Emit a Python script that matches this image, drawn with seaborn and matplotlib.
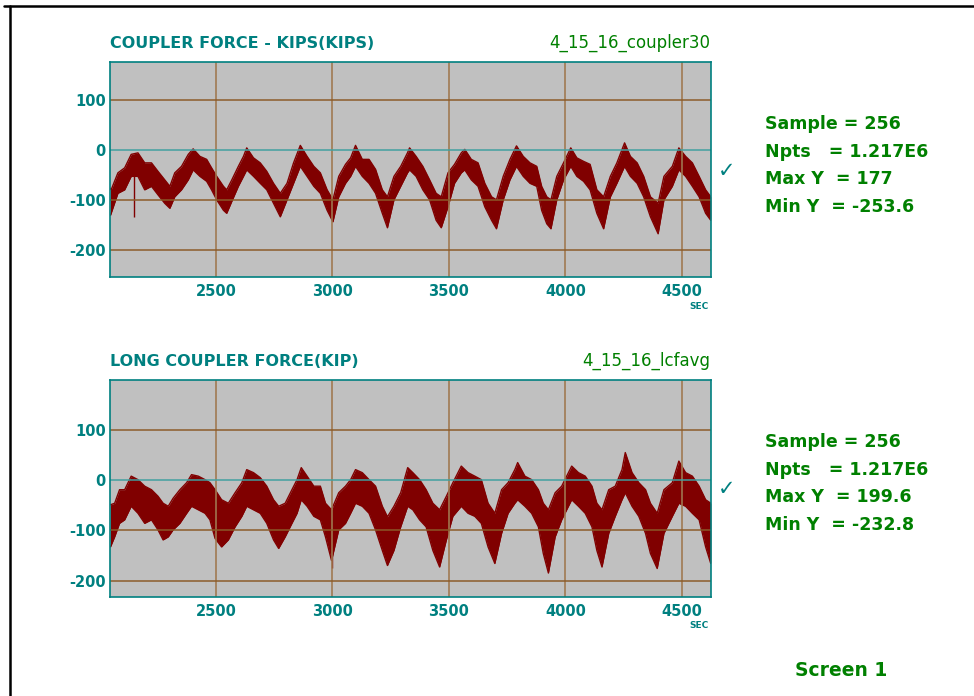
import matplotlib
matplotlib.use("Agg")
import matplotlib.pyplot as plt
import pandas as pd
import seaborn as sns
from matplotlib.lines import Line2D

# ---- coupler force (upper panel): time [s], band top / bottom [kips]
coupler_t = [2047, 2050, 2079, 2108, 2136, 2165, 2194, 2223, 2251, 2280, 2302, 2323, 2352, 2381,
             2402, 2431, 2460, 2481, 2503, 2532, 2546, 2568, 2596, 2618, 2632, 2661, 2690, 2718,
             2747, 2776, 2805, 2833, 2862, 2891, 2920, 2948, 2977, 3002, 3027, 3056, 3078, 3099,
             3128, 3157, 3185, 3214, 3236, 3264, 3293, 3322, 3331, 3359, 3388, 3417, 3445, 3467,
             3496, 3524, 3553, 3568, 3596, 3625, 3654, 3683, 3704, 3733, 3762, 3790, 3819, 3848,
             3877, 3898, 3920, 3938, 3963, 3992, 4023, 4049, 4078, 4106, 4135, 4164, 4193, 4221,
             4254, 4279, 4308, 4336, 4365, 4398, 4423, 4459, 4487, 4516, 4545, 4574, 4602, 4624]
coupler_hi = [-76, -79, -45, -35, -8, -5, -25, -25, -42, -59, -72, -45, -32, -8,
              3, -12, -18, -35, -52, -72, -79, -59, -32, -12, 5, -15, -25, -42,
              -66, -86, -66, -25, 10, -12, -32, -45, -79, -99, -52, -28, -15, 10,
              -18, -18, -38, -79, -93, -52, -32, -5, 5, -12, -32, -59, -86, -93,
              -45, -28, -5, 2, -18, -25, -66, -93, -99, -52, -18, 9, -12, -25,
              -32, -72, -93, -99, -52, -25, 5, -15, -22, -28, -79, -93, -52, -25,
              15, -12, -25, -52, -93, -106, -52, -32, 5, -12, -25, -52, -79, -93]
coupler_lo = [-130, -126, -86, -79, -52, -52, -79, -72, -89, -106, -116, -93, -79, -59,
              -39, -52, -62, -79, -99, -120, -126, -102, -72, -52, -39, -52, -66, -79,
              -106, -133, -99, -66, -32, -52, -72, -86, -120, -143, -93, -66, -52, -32,
              -52, -66, -86, -126, -155, -99, -72, -45, -39, -52, -79, -99, -140, -155,
              -113, -66, -45, -39, -59, -72, -113, -140, -157, -99, -59, -32, -52, -66,
              -72, -120, -147, -157, -99, -59, -32, -52, -62, -79, -126, -157, -93, -66,
              -32, -52, -66, -93, -133, -167, -99, -72, -39, -52, -72, -93, -126, -140]
coupler_spike_t = [2148]
coupler_spike_lo = [-134]
coupler_spike_hi = [-40]

# ---- long coupler force (lower panel)
lcf_t = [2047, 2065, 2086, 2108, 2136, 2165, 2194, 2223, 2251, 2273, 2295, 2316, 2345, 2374,
         2395, 2424, 2453, 2474, 2496, 2524, 2553, 2582, 2611, 2632, 2661, 2690, 2718, 2747,
         2769, 2797, 2826, 2848, 2866, 2891, 2920, 2948, 2970, 2996, 3027, 3056, 3078, 3099,
         3128, 3157, 3185, 3214, 3236, 3264, 3293, 3323, 3345, 3374, 3402, 3431, 3460, 3489,
         3517, 3553, 3582, 3611, 3639, 3668, 3697, 3726, 3754, 3783, 3795, 3826, 3855, 3884,
         3905, 3927, 3956, 3984, 4013, 4027, 4056, 4085, 4114, 4135, 4157, 4186, 4214, 4243,
         4257, 4286, 4315, 4344, 4365, 4394, 4423, 4459, 4487, 4516, 4545, 4574, 4602, 4624]
lcf_hi = [-49, -46, -19, -19, 8, 1, -12, -19, -32, -46, -52, -36, -19, -5,
          11, 8, 1, -5, -19, -39, -46, -25, -5, 21, 15, 5, -12, -39,
          -52, -46, -19, 1, 25, 8, -12, -12, -46, -59, -25, -12, 1, 21,
          15, 1, -12, -52, -73, -52, -25, 25, 15, 1, -19, -46, -59, -32,
          -5, 28, 15, 8, 1, -46, -66, -19, -5, 21, 35, 8, 1, -19,
          -46, -59, -25, -12, 15, 28, 15, 8, -12, -46, -59, -19, -12, 21,
          55, 15, -5, -19, -46, -66, -19, -5, 38, 15, 8, -12, -39, -46]
lcf_lo = [-133, -113, -86, -79, -52, -66, -86, -79, -99, -119, -113, -99, -86, -66,
          -52, -59, -66, -79, -116, -133, -119, -93, -72, -52, -59, -66, -86, -119,
          -136, -113, -86, -66, -39, -52, -72, -79, -113, -160, -99, -86, -66, -46,
          -52, -66, -99, -140, -170, -140, -93, -52, -59, -79, -93, -140, -173, -119,
          -72, -52, -66, -72, -86, -133, -166, -106, -66, -46, -39, -52, -66, -93,
          -146, -185, -113, -79, -52, -39, -52, -66, -93, -140, -173, -106, -72, -39,
          -25, -52, -72, -106, -146, -176, -106, -72, -46, -52, -66, -79, -133, -166]
lcf_spike_t = [2996]
lcf_spike_lo = [-175]
lcf_spike_hi = [-100]

panels = [
    dict(t=coupler_t, hi=coupler_hi, lo=coupler_lo,
         sp_t=coupler_spike_t, sp_lo=coupler_spike_lo, sp_hi=coupler_spike_hi,
         ylim=(-253.6, 177), title="COUPLER FORCE - KIPS(KIPS)", name="4_15_16_coupler30",
         stats=["Sample = 256", "Npts   = 1.217E6", "Max Y  = 177", "Min Y  = -253.6"],
         box=(110, 62, 711, 277)),
    dict(t=lcf_t, hi=lcf_hi, lo=lcf_lo,
         sp_t=lcf_spike_t, sp_lo=lcf_spike_lo, sp_hi=lcf_spike_hi,
         ylim=(-232.8, 199.6), title="LONG COUPLER FORCE(KIP)", name="4_15_16_lcfavg",
         stats=["Sample = 256", "Npts   = 1.217E6", "Max Y  = 199.6", "Min Y  = -232.8"],
         box=(110, 380, 711, 597)),
]

x_ticks = [2500, 3000, 3500, 4000, 4500]
y_ticks = [100, 0, -100, -200]
x_range = (2045, 4625)

TEAL = "#008080"
GREEN = "#008000"
TRACE = "#800000"
PANEL_BG = "#c0c0c0"
GRID_V = "#a07850"
GRID_H = "#8b5a28"
ZERO = "#40a0a0"

sns.set_theme(style="white")
plt.rcParams["font.family"] = ["DejaVu Sans"]
plt.rcParams["axes.unicode_minus"] = False

W, H = 974, 696
fig = plt.figure(figsize=(W / 100, H / 100), dpi=100)
fig.patch.set_facecolor("white")


def fx(x):
    return x / W


def fy(y):
    return 1 - y / H


for p in panels:
    l, t, r, b = p["box"]
    ax = fig.add_axes([fx(l), fy(b), (r - l) / W, (b - t) / H])
    ax.set_facecolor(PANEL_BG)

    n = len(p["t"])
    df = pd.DataFrame({"sec": p["t"] * 2, "force": p["hi"] + p["lo"],
                       "edge": ["hi"] * n + ["lo"] * n})
    ax.fill_between(p["t"], p["lo"], p["hi"], color=TRACE, lw=0, zorder=2)
    sns.lineplot(data=df, x="sec", y="force", units="edge", estimator=None,
                 color=TRACE, lw=1.0, ax=ax, zorder=2, legend=False)
    ax.vlines(p["sp_t"], p["sp_lo"], p["sp_hi"], color=TRACE, lw=1.0, zorder=2)

    for xv in x_ticks:
        ax.axvline(xv, color=GRID_V, lw=1.3, zorder=3, alpha=0.9)
    for yv in y_ticks:
        ax.axhline(yv, color=ZERO if yv == 0 else GRID_H, lw=1.2, zorder=3, alpha=0.9)

    ax.set_xlim(*x_range)
    ax.set_ylim(*p["ylim"])
    ax.set_xticks(x_ticks)
    ax.set_yticks(y_ticks)
    ax.set_xlabel("")
    ax.set_ylabel("")
    ax.tick_params(axis="both", length=0, labelcolor=TEAL, labelsize=10.5)
    ax.tick_params(axis="x", pad=5)
    ax.tick_params(axis="y", pad=3)
    for lab in ax.get_xticklabels() + ax.get_yticklabels():
        lab.set_fontweight("bold")
    for s in ax.spines.values():
        s.set_color(TEAL)
        s.set_linewidth(1.2)
        s.set_zorder(4)

    fig.text(fx(l), fy(t - 19), p["title"], color=TEAL, fontsize=11.5,
             fontweight="bold", ha="left", va="center")
    fig.text(fx(r - 1), fy(t - 19), p["name"], color=GREEN, fontsize=12,
             ha="right", va="center")
    fig.text(fx(r - 2), fy(b + 29), "SEC", color=TEAL, fontsize=6.5,
             fontweight="bold", ha="right", va="center")

    for i, s in enumerate(p["stats"]):
        fig.text(fx(765), fy(t + 62 + i * 27.7), s, color=GREEN, fontsize=12.5,
                 fontweight="bold", ha="left", va="center")
    fig.text(fx(727), fy(t + 109), "\u2713", color=TEAL, fontsize=15,
             ha="center", va="center")

fig.text(fx(795), fy(670), "Screen 1", color=GREEN, fontsize=13.5,
         fontweight="bold", ha="left", va="center")

# frame lines along the top and left edges
fig.add_artist(Line2D([fx(4), fx(W)], [fy(6), fy(6)], color="black", lw=1.8))
fig.add_artist(Line2D([fx(10), fx(10)], [fy(6), fy(H)], color="black", lw=1.8))

fig.savefig("out.png", dpi=100, facecolor="white")
